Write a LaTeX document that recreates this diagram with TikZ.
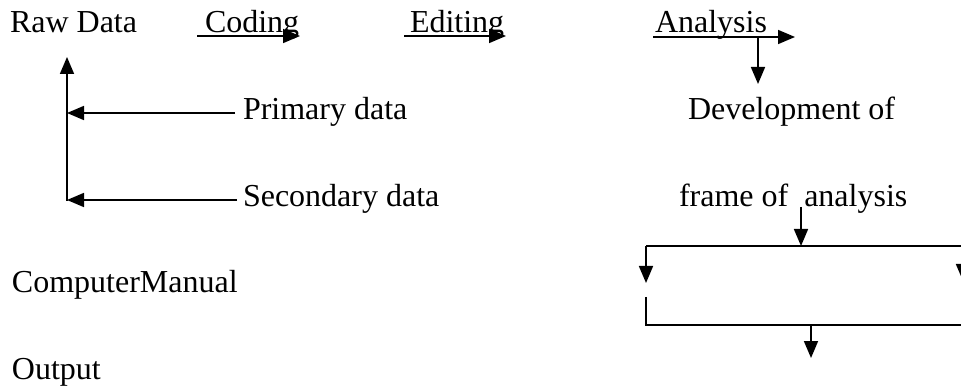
\documentclass[tikz,border=0pt]{standalone}
\usepackage{fontspec}
\setmainfont{Liberation Serif}
\usetikzlibrary{arrows.meta}
\begin{document}
\begin{tikzpicture}[x=1pt,y=-1pt,
  lbl/.style={inner sep=0pt, outer sep=0pt, anchor=base west, font=\fontsize{32}{38}\selectfont},
  conn/.style={line width=1.7pt, -{Triangle[length=17pt,width=14pt]}},
  plainline/.style={line width=1.7pt}]
\useasboundingbox (0,0) rectangle (961,387);
\clip (0,0) rectangle (961,387);
% texts
\node[lbl] (raw) at (10,33) {Raw Data};
\node[lbl] (coding) at (205,33) {Coding};
\node[lbl] (editing) at (410,33) {Editing};
\node[lbl] (analysis) at (655,33) {Analysis};
\node[lbl] (primary) at (243,120) {Primary data};
\node[lbl] (dev) at (688,120) {Development of};
\node[lbl] (secondary) at (243,207) {Secondary data};
\node[lbl] (frame) at (679,207) {frame of~ analysis};
\node[lbl] (cm) at (12,293) {ComputerManual};
\node[lbl] (out) at (12,379) {Output};
% coordinates
\coordinate (cs) at (197,36);  \coordinate (ce) at (300,36);
\coordinate (es) at (404,36);  \coordinate (ee) at (506,36);
\coordinate (as) at (653,37);  \coordinate (ae) at (795,37);
\coordinate (ad) at (758,37);  \coordinate (adt) at (758,84);
\coordinate (ps) at (235,113); \coordinate (pe) at (67,113);
\coordinate (ss) at (237,200); \coordinate (se) at (67,200);
\coordinate (vb) at (67,201);  \coordinate (vt) at (67,57);
\coordinate (fs) at (801,207); \coordinate (fe) at (801,246);
\coordinate (tl) at (646,246); \coordinate (tr) at (963,246);
\coordinate (lt) at (646,283); \coordinate (rt) at (963,281);
\coordinate (ls) at (646,297); \coordinate (bl) at (646,325);
\coordinate (br) at (963,325);
\coordinate (bs) at (811,325); \coordinate (bt) at (811,358);
% connectors
\draw[conn] (cs) -- (ce);
\draw[conn] (es) -- (ee);
\draw[conn] (as) -- (ae);
\draw[conn] (ad) -- (adt);
\draw[conn] (ps) -- (pe);
\draw[conn] (ss) -- (se);
\draw[conn] (vb) -- (vt);
\draw[conn] (fs) -- (fe);
\draw[plainline] (tl) -- (tr);
\draw[conn] (tl) -- (lt);
\draw[conn] (tr) -- (rt);
\draw[plainline] (ls) -- (bl) -- (br);
\draw[conn] (bs) -- (bt);
\end{tikzpicture}
\end{document}
